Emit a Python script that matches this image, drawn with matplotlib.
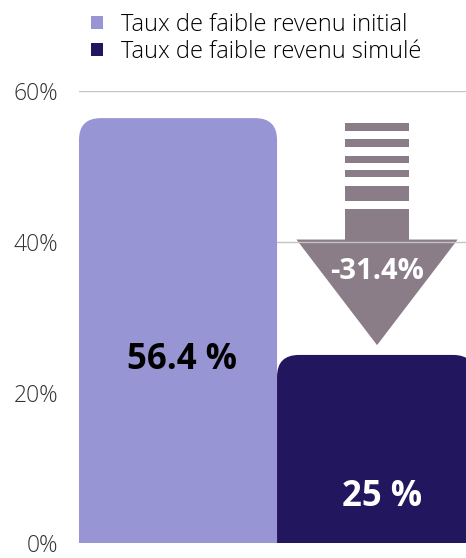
import matplotlib.pyplot as plt
from matplotlib.patches import FancyBboxPatch, Polygon, Rectangle

series = ["Taux de faible revenu initial", "Taux de faible revenu simulé"]
values = [56.4, 25.0]
bar_labels = ["56.4 %", "25 %"]
change_label = "-31.4%"
yticks = [0, 20, 40, 60]
ytick_labels = ["0%", "20%", "40%", "60%"]

colors = ["#9795d4", "#22165e"]
arrow_col = "#8a7d87"

plt.rcParams['font.family'] = ['Open Sans', 'DejaVu Sans']

fig = plt.figure(figsize=(4.66, 5.58), dpi=100)
ax = fig.add_axes([0.1695, 0.026, 0.85, 0.811])
ax.set_xlim(-0.5, 1.5)
ax.set_ylim(0, 60)

# grid (behind bars)
for t in yticks[1:]:
    ax.axhline(t, color="#c4c4c4", lw=1, zorder=2)

# bars with rounded top corners
bars = ax.bar(range(len(values)), values, width=1.0, color=colors, visible=False)
rx = 0.111
for b, c in zip(bars, colors):
    x, w, h = b.get_x(), b.get_width(), b.get_height()
    p = FancyBboxPatch((x, -10), w, h + 10,
                       boxstyle="round,pad=0,rounding_size=%f" % rx,
                       mutation_aspect=26, fc=c, ec="none", zorder=3)
    ax.add_patch(p)

# labels inside bars
ax.text(0.02, 24.3, bar_labels[0], ha="center", va="center", fontsize=25,
        fontweight="bold", color="black", zorder=5)
ax.text(1.03, 6.2, bar_labels[1], ha="center", va="center", fontsize=25,
        fontweight="bold", color="white", zorder=5)

# decrease arrow
cx, hw, hh = 1.005, 0.162, 0.407
stripes = [(54.7, 55.8), (52.6, 53.6), (50.5, 51.4), (48.6, 49.5), (45.4, 47.4), (40.3, 44.3)]
for y0, y1 in stripes:
    ax.add_patch(Rectangle((cx - hw, y0), 2 * hw, y1 - y0, fc=arrow_col, ec="none", zorder=1))
ax.add_patch(Polygon([(cx - hh, 40.3), (cx + hh, 40.3), (cx, 26.3)], closed=True,
                     fc=arrow_col, ec="none", zorder=1))
ax.text(cx, 36.1, change_label, ha="center", va="center", fontsize=21,
        fontweight="bold", color="white", zorder=5)

ax.set_yticks(yticks)
ax.set_yticklabels(ytick_labels, fontsize=16.5, fontweight="light", color="#333333")
ax.tick_params(axis="y", length=0, pad=15)
ax.set_xticks([])
for s in ax.spines.values():
    s.set_visible(False)

# legend
handles = [Rectangle((0, 0), 1, 1, fc=c, ec="none") for c in colors]
fig.legend(handles, series, loc="upper left", bbox_to_anchor=(0.15, 1.015),
           frameon=False, handlelength=0.5, handleheight=0.5,
           handletextpad=0.75, labelspacing=0.12, prop={"weight": "light", "size": 17})

fig.savefig("out.png", dpi=100)
